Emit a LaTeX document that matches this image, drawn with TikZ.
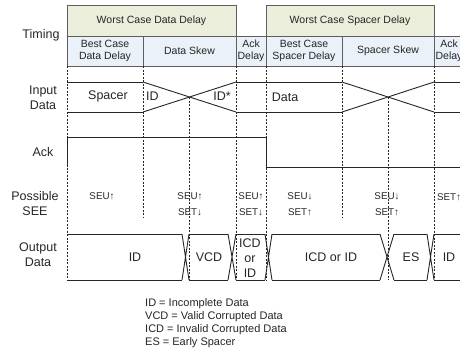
\documentclass[tikz,border=0pt]{standalone}
\usepackage{fontspec}
\setmainfont{Liberation Sans}
\usetikzlibrary{positioning}
\definecolor{seeolive}{HTML}{EBEEDA}
\definecolor{seeblue}{HTML}{EAF1F8}
\definecolor{seegrid}{HTML}{5E5E5E}
\definecolor{seeink}{HTML}{262626}

\begin{document}
\begin{tikzpicture}[x=1pt,y=-1pt, every node/.style={text=seeink,align=center,inner sep=0pt}]
\tikzset{worst/.style={draw=seegrid,fill=seeolive,anchor=north west,outer sep=0pt,minimum height=31pt,font=\fontsize{10.5}{12}\selectfont},
 best/.style={draw=seegrid,fill=seeblue,anchor=north west,outer sep=0pt,minimum height=30pt,font=\fontsize{10.5}{12}\selectfont},
 rowlbl/.style={font=\fontsize{12.5}{15}\selectfont},
 sig/.style={draw=seeink,line width=0.9pt},
 guide/.style={draw=seeink,dash pattern=on 2pt off 1.5pt,line width=0.5pt},
 see/.style={font=\fontsize{9.8}{12}\selectfont},
 val/.style={font=\fontsize{12.5}{15}\selectfont},
 legend/.style={anchor=west,font=\fontsize{11}{13}\selectfont}}
\useasboundingbox (0,0) rectangle (460,362);
\clip (0,0) rectangle (460,362);

% timing table
\node[worst,minimum width=169pt] (wcdd) at (67,5) {Worst Case Data Delay};
\node[worst,minimum width=168pt] (wcsd) at (266,5) {Worst Case Spacer Delay};
\node[best,minimum width=76pt] (bcdd) at (wcdd.south west) {Best Case\\Data Delay};
\node[best,minimum width=93pt] (dskew) at (bcdd.north east) {Data Skew};
\node[best,minimum width=30pt] (ackd1) at (dskew.north east) {Ack\\Delay};
\node[best,minimum width=76pt] (bcsd) at (ackd1.north east) {Best Case\\Spacer Delay};
\node[best,minimum width=92pt] (sskew) at (bcsd.north east) {Spacer Skew};
\node[best,minimum width=30pt] (ackd2) at (sskew.north east) {Ack\\Delay};

% row labels
\node[rowlbl] (ltiming) at (41,35) {Timing};
\node[rowlbl] (linput) at (43,98) {Input\\Data};
\node[rowlbl] (lack) at (43,152) {Ack};
\node[rowlbl] (lsee) at (35,204) {Possible\\SEE};
\node[rowlbl] (lout) at (38,255) {Output\\Data};

% phase guides
\coordinate (xd) at (189.5,97);
\coordinate (xs) at (388,97);
\foreach \gx/\gy in {67/280,143/218,236/280,266/280,342/218,434/280}
  \draw[guide] (\gx,66) -- (\gx,\gy);
\draw[guide] (xd) -- (xd |- 0,280);
\draw[guide] (xs) -- (xs |- 0,280);

% input data
\foreach \a/\b in {67/143,236/342,434/470}
  \draw[sig] (\a,82) -- (\b,82) (\a,112) -- (\b,112);
\foreach \a/\b in {143/236,342/434}
  \draw[sig] (\a,82) -- (\b,112) (\a,112) -- (\b,82);
\node[val] (spacer) at (108,96) {Spacer};
\node[val,anchor=west] (idin) at (146,96) {ID};
\node[val] (idstar) at (222,96) {ID*};
\node[val] (datain) at (285,97) {Data};

% ack
\draw[sig] (67,167) -- (67,137) -- (266,137) -- (266,167) -- (470,167);

% possible SEE
\node[see] (s1) at (102,196) {SEU↑};
\node[see] (s2) at (190,196) {SEU↑};
\node[see] (s3) at (190,212) {SET↓};
\node[see] (s4) at (251,196) {SEU↑};
\node[see] (s5) at (251,212) {SET↓};
\node[see] (s6) at (300,196) {SEU↓};
\node[see] (s7) at (300,212) {SET↑};
\node[see] (s8) at (387,196) {SEU↓};
\node[see] (s9) at (387,212) {SET↑};
\node[see] (s10) at (449,197) {SET↑};

% output data
\foreach \a/\b in {67/182,189/228,236/265,272/380,394/427,434/470}
  \draw[sig] (\a,234) -- (\b,234) (\a,280) -- (\b,280);
\foreach \a/\b in {182/189,228/236,265/272,380/394,427/434}
  \draw[sig] (\a,234) -- (\b,280) (\a,280) -- (\b,234);
\node[val] (oid) at (135,257) {ID};
\node[val] (ovcd) at (209,257) {VCD};
\node[val] (oicd) at (250,258) {ICD\\or\\ID};
\node[val] (oicdid) at (331,257) {ICD or ID};
\node[val] (oes) at (411,257) {ES};
\node[val] (oid2) at (449,257) {ID};

% key
\foreach \t [count=\i] in {ID = Incomplete Data,VCD = Valid Corrupted Data,ICD = Invalid Corrupted Data,ES = Early Spacer}
  \node[legend] (key\i) at (145,291+13*\i) {\t};
\end{tikzpicture}
\end{document}
